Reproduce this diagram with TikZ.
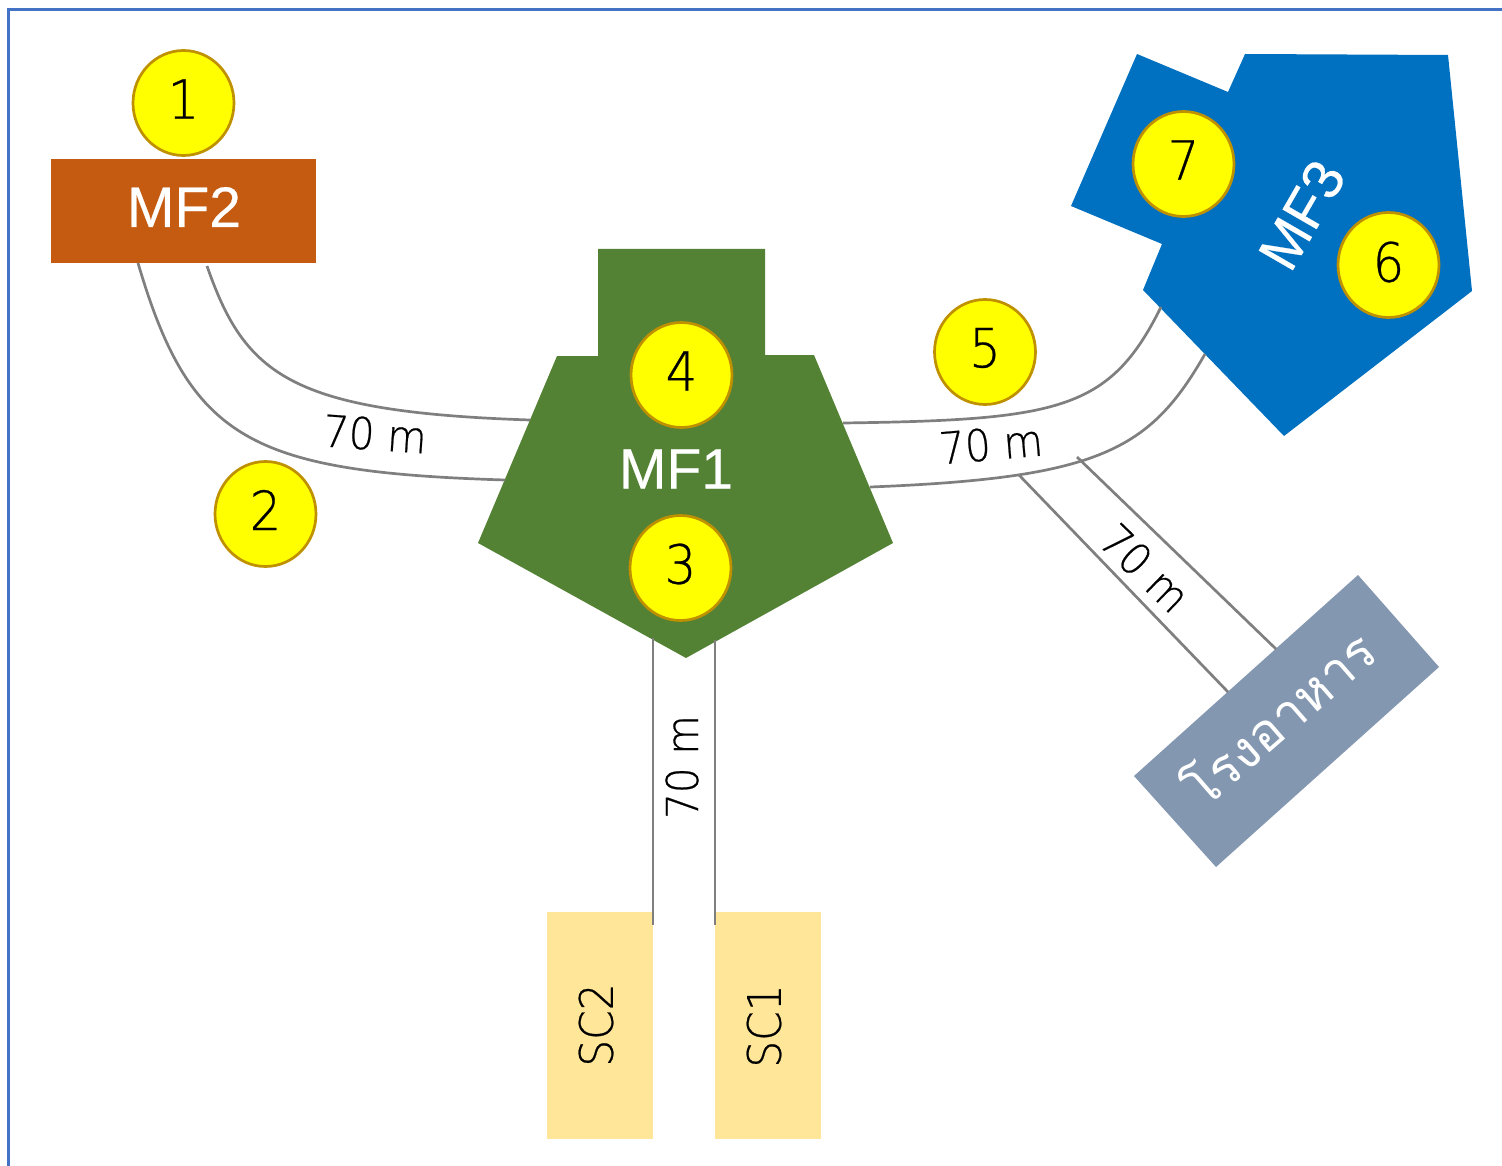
\documentclass[tikz,border=0pt]{standalone}
\usepackage{fontspec}
\setmainfont{Loma}[Script=Thai]
\newfontfamily\lab{Liberation Sans}[FakeBold=0.4]
\newfontfamily\thinf{DejaVu Sans ExtraLight}[FakeStretch=0.92,FakeBold=0.5]
\definecolor{frameblue}{HTML}{4472C4}
\definecolor{mfgreen}{HTML}{548235}
\definecolor{mforange}{HTML}{C55A11}
\definecolor{mfblue}{HTML}{0070C0}
\definecolor{canteen}{HTML}{8497B0}
\definecolor{scyellow}{HTML}{FFE699}
\definecolor{ringgold}{HTML}{BF9000}
\definecolor{roadgray}{HTML}{7F7F7F}
\definecolor{badgeyellow}{HTML}{FFFF00}
\tikzset{
 road/.style={draw=roadgray,line width=2.7pt},
 badge/.style={ellipse,draw=ringgold,line width=2.7pt,fill=badgeyellow,minimum width=101pt,minimum height=105pt,inner sep=0pt},
 digit/.style={font=\thinf\fontsize{54}{54}\selectfont,inner sep=0pt},
 dist/.style={font=\thinf\fontsize{44}{44}\selectfont,inner sep=0pt},
 mflabel/.style={font=\lab\fontsize{57}{57}\selectfont,text=white,inner sep=0pt},
 sclabel/.style={font=\thinf\fontsize{46}{46}\selectfont,inner sep=0pt,rotate=90},
}
\usetikzlibrary{shapes.geometric}
\begin{document}
\begin{tikzpicture}[x=1pt,y=-1pt]
\useasboundingbox (0,0) rectangle (1502,1166);
\draw[frameblue,line width=3pt] (8,1166) -- (8,10) -- (1502,10);
% roads
\coordinate (la1) at (207,266); \coordinate (la2) at (530,420);
\coordinate (lb1) at (138,263); \coordinate (lb2) at (505,480);
\coordinate (ra1) at (843,423); \coordinate (ra2) at (1161,307);
\coordinate (rb1) at (870,487); \coordinate (rb2) at (1205,354);
\coordinate (ca1) at (1077,457); \coordinate (ca2) at (1276,649);
\coordinate (cb1) at (1019,475); \coordinate (cb2) at (1228,692);
\coordinate (va1) at (653,638); \coordinate (va2) at (653,925);
\coordinate (vb1) at (715,640); \coordinate (vb2) at (715,925);
% shapes
\fill[mfgreen] (598,249) -- (765,249) -- (765,355) -- (814,355) -- (893,543) -- (686,658) -- (478,543) -- (557,356) -- (598,356) -- cycle;
\fill[mfblue] (1137,54) -- (1228,92) -- (1245,54) -- (1448,55) -- (1472,291) -- (1284,436) -- (1143,290) -- (1162,244) -- (1071,206) -- cycle;
\fill[canteen] (1358,575) -- (1439,667) -- (1216,867) -- (1134,776) -- cycle;
\node[fill=mforange,minimum width=265pt,minimum height=104pt,inner sep=0pt] (mf2) at (183.5,211) {};
\node[fill=scyellow,minimum width=106pt,minimum height=227pt,inner sep=0pt] (sc2) at (600,1025.5) {};
\node[fill=scyellow,minimum width=106pt,minimum height=227pt,inner sep=0pt] (sc1) at (768,1025.5) {};
\draw[road] (la1) .. controls (245,375) and (290,412) .. (la2);
\draw[road] (lb1) .. controls (190,440) and (250,472) .. (lb2);
\draw[road] (ra1) .. controls (1060,420) and (1110,410) .. (ra2);
\draw[road] (rb1) .. controls (1100,478) and (1150,450) .. (rb2);
\draw[road] (ca1) -- (ca2);
\draw[road] (cb1) -- (cb2);
\draw[road] (va1) -- (va2);
\draw[road] (vb1) -- (vb2);
% labels
\node[mflabel] (t2) at (184,207) {MF2};
\node[mflabel] (t1) at (676,469) {MF1};
\node[mflabel,rotate=60] (t3) at (1302,215) {MF3};
\node[sclabel] (s2) at (596,1025) {SC2};
\node[sclabel] (s1) at (764,1026) {SC1};
\node[dist,rotate=-4] (d1) at (375,434) {70 m};
\node[dist,rotate=5] (d2) at (991,444) {70 m};
\node[dist,rotate=-44] (d3) at (1145,568) {70 m};
\node[dist,rotate=90] (d4) at (682,767) {70 m};
\node[inner sep=0pt,text=white,rotate=41,font=\fontsize{52}{52}\selectfont] (food) at (1277,716) {โรงอาหาร};
% badges
\node[badge] (b1) at (183.5,103) {};
\node[badge] (b2) at (265.5,514) {};
\node[badge] (b3) at (680.5,568) {};
\node[badge] (b4) at (681.5,375) {};
\node[badge] (b5) at (985,352) {};
\node[badge] (b6) at (1388.5,265) {};
\node[badge] (b7) at (1183.5,164) {};
\node[digit] (n1) at (183.5,99) {1};
\node[digit] (n2) at (265.5,510) {2};
\node[digit] (n3) at (680.5,564) {3};
\node[digit] (n4) at (681.5,371) {4};
\node[digit] (n5) at (985,348) {5};
\node[digit] (n6) at (1388.5,262) {6};
\node[digit] (n7) at (1183.5,160) {7};
\end{tikzpicture}
\end{document}
